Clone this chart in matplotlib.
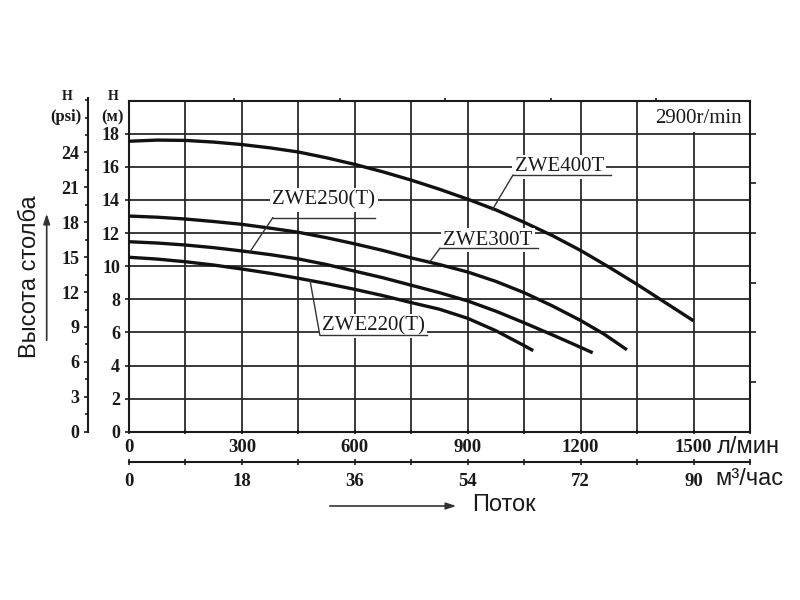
import matplotlib
matplotlib.use('Agg')
import matplotlib.pyplot as plt
from matplotlib.ticker import MultipleLocator, FixedLocator

# curve data: flow (l/min) vs head (m)
q_400 = [0, 75, 150, 225, 300, 375, 450, 525, 600, 675, 750, 825, 900, 975,
         1050, 1125, 1200, 1275, 1350, 1425, 1500]
h_400 = [17.55, 17.62, 17.6, 17.5, 17.35, 17.15, 16.9, 16.55, 16.15, 15.7, 15.2,
         14.65, 14.05, 13.4, 12.65, 11.85, 10.95, 9.95, 8.9, 7.8, 6.7]

q_300 = [0, 75, 150, 225, 300, 375, 450, 525, 600, 675, 750, 825, 900, 975,
         1050, 1125, 1200, 1262, 1323]
h_300 = [13.03, 12.96, 12.85, 12.7, 12.53, 12.3, 12.05, 11.72, 11.35, 10.95, 10.5,
         10.1, 9.65, 9.08, 8.4, 7.6, 6.72, 5.9, 4.95]

q_250 = [0, 75, 150, 225, 300, 375, 450, 525, 600, 675, 750, 825, 900, 975,
         1050, 1125, 1180, 1232]
h_250 = [11.48, 11.4, 11.28, 11.12, 10.92, 10.7, 10.44, 10.1, 9.7, 9.3, 8.85,
         8.4, 7.9, 7.28, 6.58, 5.85, 5.3, 4.77]

q_220 = [0, 75, 150, 225, 300, 375, 450, 525, 600, 675, 750, 825, 900, 975,
         1050, 1074]
h_220 = [10.54, 10.43, 10.27, 10.07, 9.83, 9.57, 9.27, 8.95, 8.6, 8.22, 7.8,
         7.4, 6.85, 6.1, 5.2, 4.9]

lmin_ticks = [0, 300, 600, 900, 1200, 1500]
m3h_ticks = [0, 18, 36, 54, 72, 90]
m_ticks = [0, 2, 4, 6, 8, 10, 12, 14, 16, 18]
psi_ticks = [0, 3, 6, 9, 12, 15, 18, 21, 24]
right_ticks = [3, 6, 9, 12, 15, 18]
top_ticks = [280, 560, 840, 1120, 1400]

SERIF = 'Liberation Serif'
SANS = 'Liberation Sans'
INK = '#1a1a1a'

W, H = 800, 600
fig = plt.figure(figsize=(8, 6), dpi=100)
fig.patch.set_facecolor('white')

def fx(px):
    return px / W

def fy(py):
    return 1 - py / H

L, R = fx(129), fx(750)
B, T = fy(431.7), fy(100.7)

ax = fig.add_axes([L, B, R - L, T - B])
ax.set_xlim(0, 1650)
ax.set_ylim(0, 20)
ax.set_axisbelow(True)

# grid
ax.xaxis.set_major_locator(FixedLocator(lmin_ticks))
ax.xaxis.set_minor_locator(MultipleLocator(150))
ax.yaxis.set_major_locator(FixedLocator(m_ticks))
ax.yaxis.set_minor_locator(MultipleLocator(2))
ax.grid(True, which='both', color='#2a2a2a', linewidth=1.3)

for s in ax.spines.values():
    s.set_linewidth(1.5)
    s.set_color(INK)

ax.tick_params(axis='x', which='both', length=3, direction='inout', width=1.2,
               pad=4, labelsize=13.5, colors=INK)
ax.tick_params(axis='y', which='major', length=3, direction='out', width=1.2,
               pad=3.5, labelsize=13, colors=INK)
ax.tick_params(axis='y', which='minor', length=0)
for lab in ax.get_xticklabels() + ax.get_yticklabels():
    lab.set_fontfamily(SERIF)
    lab.set_fontweight('bold')

# right ticks (every 3 m) and small top ticks
sec_r = ax.secondary_yaxis('right')
sec_r.set_yticks(right_ticks)
sec_r.set_yticklabels([])
sec_r.tick_params(length=4.5, width=1.2, colors=INK)
sec_r.spines['right'].set_visible(False)

sec_t = ax.secondary_xaxis('top')
sec_t.set_xticks(top_ticks)
sec_t.set_xticklabels([])
sec_t.tick_params(length=2.5, width=1.2, colors=INK)
sec_t.spines['top'].set_visible(False)

# curves
for q, h in [(q_400, h_400), (q_300, h_300), (q_250, h_250), (q_220, h_220)]:
    ax.plot(q, h, color='#111111', linewidth=2.4, solid_capstyle='butt',
            solid_joinstyle='round', zorder=3)

# speed box
ax.add_patch(plt.Rectangle((1352, 18.1), 296, 1.85, facecolor='white',
                           edgecolor='none', zorder=1))
ax.text(1512, 18.95, '2900r/min', ha='center', va='center', fontsize=15,
        family=SERIF, color=INK, zorder=4)

# curve labels: text, text pos, underline, leader
labels = [
    ('ZWE400T', (1143, 16.0), (1020, 1282, 15.5), (965, 13.4)),
    ('ZWE250(T)', (518, 14.0), (382, 653, 12.93), (321, 10.86)),
    ('ZWE300T', (953, 11.58), (826, 1087, 11.08), (800, 10.28)),
    ('ZWE220(T)', (649, 6.39), (507, 791, 5.84), (481, 9.14)),
]
for name, (tx, ty), (u0, u1, uy), (lx, ly) in labels:
    ax.text(tx, ty, name, ha='center', va='center', fontsize=15, family=SERIF,
            color=INK, zorder=4,
            bbox=dict(boxstyle='square,pad=0.12', facecolor='white', edgecolor='none'))
    ax.plot([u0, u1], [uy, uy], color='#333333', linewidth=1.0, zorder=4)
    ax.plot([lx, u0], [ly, uy], color='#333333', linewidth=1.0, zorder=4)

# psi axis
ax_psi = fig.add_axes([fx(88.3), B, 0.0001, fy(98) - B])
ax_psi.set_ylim(0, 20 / 0.70307 * (fy(98) - B) / (T - B))
ax_psi.set_xticks([])
for k in ['top', 'right', 'bottom']:
    ax_psi.spines[k].set_visible(False)
ax_psi.spines['left'].set_linewidth(1.5)
ax_psi.spines['left'].set_color(INK)
ax_psi.yaxis.set_major_locator(FixedLocator(psi_ticks))
ax_psi.yaxis.set_minor_locator(MultipleLocator(1.5))
ax_psi.tick_params(axis='y', which='major', length=3, width=1.2, pad=3.5,
                   labelsize=13, colors=INK)
ax_psi.tick_params(axis='y', which='minor', length=2, width=1.2, colors=INK)
for lab in ax_psi.get_yticklabels():
    lab.set_fontfamily(SERIF)
    lab.set_fontweight('bold')
ax_psi.patch.set_visible(False)

# m3/h axis
ax_m3 = fig.add_axes([L, fy(462.3), R - L, 0.0001])
ax_m3.set_xlim(0, 1650 / 1000 * 60)
ax_m3.set_yticks([])
for k in ['top', 'right', 'left']:
    ax_m3.spines[k].set_visible(False)
ax_m3.spines['bottom'].set_linewidth(1.5)
ax_m3.spines['bottom'].set_color(INK)
ax_m3.xaxis.set_major_locator(FixedLocator(m3h_ticks))
ax_m3.xaxis.set_minor_locator(MultipleLocator(9))
ax_m3.tick_params(axis='x', which='both', length=5, direction='inout', width=1.2,
                  pad=5, labelsize=13.5, colors=INK)
for lab in ax_m3.get_xticklabels():
    lab.set_fontfamily(SERIF)
    lab.set_fontweight('bold')
ax_m3.patch.set_visible(False)

# axis titles
fig.text(fx(67), fy(97), 'H', ha='center', va='center', fontsize=10,
         family=SERIF, fontweight='bold', color=INK)
fig.text(fx(66), fy(117), '(psi)', ha='center', va='center', fontsize=12,
         family=SERIF, fontweight='bold', color=INK)
fig.text(fx(113), fy(97), 'H', ha='center', va='center', fontsize=10,
         family=SERIF, fontweight='bold', color=INK)
fig.text(fx(112), fy(117), '(м)', ha='center', va='center', fontsize=12,
         family=SERIF, fontweight='bold', color=INK)

fig.text(fx(717), fy(447), 'л/мин', ha='left', va='center', fontsize=17,
         family=SANS, color=INK)
fig.text(fx(715), fy(479), 'м³/час', ha='left', va='center', fontsize=17,
         family=SANS, color=INK)
fig.text(fx(472), fy(505), 'Поток', ha='left', va='center', fontsize=17,
         family=SANS, color=INK)
fig.text(fx(30), fy(277), 'Высота столба', ha='center', va='center',
         rotation=90, fontsize=17, family=SANS, color=INK)

fig.add_artist(matplotlib.patches.FancyArrowPatch(
    (fx(327), fy(506)), (fx(459), fy(506)), transform=fig.transFigure,
    arrowstyle='-|>,head_length=6,head_width=2', mutation_scale=1,
    color='#333333', linewidth=1.2))
fig.add_artist(matplotlib.patches.FancyArrowPatch(
    (fx(46.7), fy(343)), (fx(46.7), fy(211)), transform=fig.transFigure,
    arrowstyle='-|>,head_length=6,head_width=2', mutation_scale=1,
    color='#333333', linewidth=1.2))

fig.savefig('out.png', dpi=100, facecolor='white')
